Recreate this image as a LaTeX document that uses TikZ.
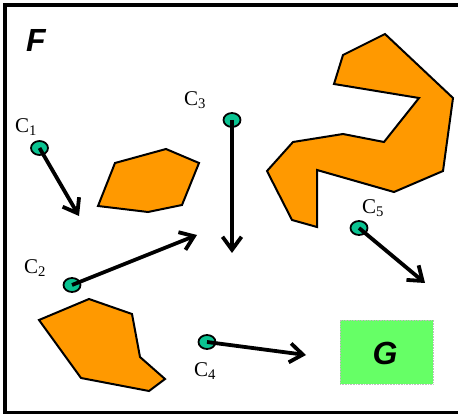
\documentclass[tikz,border=0pt]{standalone}
\usepackage{fontspec}
\setmainfont{Liberation Serif}
\newfontfamily\arialfont{Liberation Sans}
\usetikzlibrary{arrows.meta,shapes.geometric}
\definecolor{cteal}{RGB}{10,195,145}
\definecolor{obst}{RGB}{255,153,0}
\definecolor{goal}{RGB}{102,255,102}
\tikzset{
  cnode/.style={ellipse, draw=black, line width=1.8pt, fill=cteal, minimum width=17pt, minimum height=14pt, inner sep=0pt},
  clabel/.style={font=\fontsize{21}{23}\selectfont, inner sep=0pt},
  move/.style={line width=3.8pt, -{Straight Barb[length=13pt, width=19pt, line width=3.8pt]}},
  obstacle/.style={draw=black, line width=2pt, fill=obst, line join=miter},
  big/.style={font=\arialfont\bfseries\itshape\fontsize{32}{34}\selectfont, inner sep=0pt}
}
\begin{document}
\begin{tikzpicture}[x=1pt, y=-1pt]
\useasboundingbox (0,0) rectangle (458,414);
\draw[line width=4.5pt, black] (5,5) rectangle (480,413);
\node[big] (F) at (36,40) {F};

% obstacles
\draw[obstacle] (115,163) -- (166,149) -- (199,163) -- (182,205) -- (148,212) -- (98,206) -- cycle;
\draw[obstacle] (39,320) -- (89,299) -- (132,314) -- (140,357) -- (165,379) -- (149,391) -- (81,378) -- cycle;
\draw[obstacle] (385,34) -- (453,98) -- (443,171) -- (394,192) -- (317,170) -- (317,227) -- (292,220) -- (267,171) -- (293,142) -- (343,134) -- (384,142) -- (419,98) -- (334,84) -- (343,55) -- cycle;

% goal
\node[draw=black!25, densely dotted, line width=0.6pt, fill=goal, minimum width=93pt, minimum height=64pt, inner sep=0pt] (G) at (386.5,352) {};
\node[big] (Gtext) at (385,353) {G};

% configurations
\node[cnode] (c1) at (39.5,148) {};
\node[cnode] (c2) at (72,285) {};
\node[cnode] (c3) at (232,120) {};
\node[cnode] (c4) at (207,342) {};
\node[cnode] (c5) at (359,228) {};

\node[clabel] (l1) at (26,127) {C\textsubscript{1}};
\node[clabel] (l2) at (35,268) {C\textsubscript{2}};
\node[clabel] (l3) at (195,100) {C\textsubscript{3}};
\node[clabel] (l4) at (205,371) {C\textsubscript{4}};
\node[clabel] (l5) at (373,208) {C\textsubscript{5}};

\coordinate (t1) at (79,216);
\coordinate (t2) at (197,235);
\coordinate (t3) at (232,253);
\coordinate (t4) at (306,355);
\coordinate (t5) at (425,283);

\draw[move] (c1.center) -- (t1);
\draw[move] (c2.center) -- (t2);
\draw[move] (c3.center) -- (t3);
\draw[move] (c4.center) -- (t4);
\draw[move] (c5.center) -- (t5);
\end{tikzpicture}
\end{document}
